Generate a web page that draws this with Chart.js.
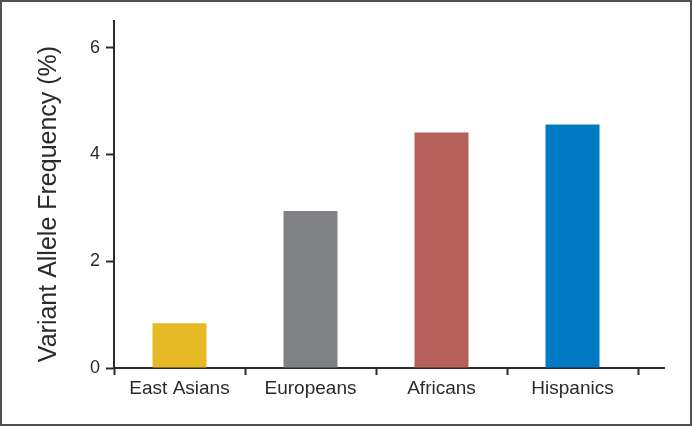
<!DOCTYPE html>
<html>
<head>
<meta charset="utf-8">
<script src="https://cdn.jsdelivr.net/npm/chart.js@4"></script>
<style>
  html, body { margin: 0; padding: 0; background: #fff; }
  #wrap { position: relative; width: 692px; height: 426px; }
  #frame {
    position: absolute; left: 0; top: 0; width: 692px; height: 426px;
    box-sizing: border-box; border: 2px solid #505050; pointer-events: none;
  }
</style>
</head>
<body>
<div id="wrap">
  <canvas id="chart" width="692" height="426"></canvas>
  <div id="frame"></div>
</div>
<script>
// Chart data
const populations = ['East Asians', 'Europeans', 'Africans', 'Hispanics'];
const alleleFreq = [0.84, 2.94, 4.41, 4.56];
const barColors = ['#E6BA24', '#808185', '#B56059', '#007AC2'];
const yTicks = [0, 2, 4, 6];
const yTitle = 'Variant Allele Frequency (%)';

const axisColor = '#2b2b2b';
const fontFamily = '"Liberation Sans", Arial, Helvetica, sans-serif';

// Y title drawn by hand so it can sit a bit below the axis middle, like the original
const yTitlePlugin = {
    id: 'yTitle',
    afterDraw(chart) {
        const { ctx, chartArea } = chart;
        ctx.save();
        ctx.translate(49.5, (chartArea.top + chartArea.bottom) / 2 + 9.5);
        ctx.rotate(-Math.PI / 2);
        ctx.font = '25px ' + fontFamily;
        ctx.fillStyle = axisColor;
        ctx.textAlign = 'center';
        ctx.textBaseline = 'middle';
        ctx.fillText(yTitle, 0, 0);
        ctx.restore();
    }
};

// The x axis line runs on past the last tick
const axisTailPlugin = {
    id: 'axisTail',
    afterDraw(chart) {
        const { ctx, chartArea } = chart;
        ctx.save();
        ctx.strokeStyle = axisColor;
        ctx.lineWidth = 2;
        ctx.beginPath();
        ctx.moveTo(chartArea.right - 1, chartArea.bottom);
        ctx.lineTo(chartArea.right + 27, chartArea.bottom);
        ctx.stroke();
        ctx.restore();
    }
};

new Chart(document.getElementById('chart'), {
    type: 'bar',
    data: {
        labels: populations,
        datasets: [{
            data: alleleFreq,
            backgroundColor: barColors,
            borderWidth: 0,
            barPercentage: 0.412,
            categoryPercentage: 1
        }]
    },
    options: {
        responsive: false,
        animation: false,
        layout: { padding: { left: 0, top: 21, right: 54, bottom: 0 } },
        plugins: {
            legend: { display: false },
            tooltip: { enabled: false }
        },
        scales: {
            x: {
                offset: true,
                grid: {
                    offset: true,
                    drawOnChartArea: false,
                    tickLength: 7,
                    tickWidth: 2,
                    tickColor: axisColor
                },
                border: { display: true, color: axisColor, width: 2 },
                ticks: {
                    color: axisColor,
                    padding: 2,
                    maxRotation: 0,
                    font: { family: fontFamily, size: 19 }
                },
                afterFit(scale) { scale.height = 58; }
            },
            y: {
                min: 0,
                max: 6.5,
                grid: {
                    drawOnChartArea: false,
                    tickLength: 8,
                    tickWidth: 2,
                    tickColor: axisColor
                },
                border: { display: true, color: axisColor, width: 2 },
                ticks: {
                    color: axisColor,
                    padding: 6,
                    font: { family: fontFamily, size: 18 }
                },
                afterBuildTicks(scale) {
                    scale.ticks = yTicks.map(v => ({ value: v }));
                },
                afterFit(scale) { scale.width = 114; }
            }
        }
    },
    plugins: [yTitlePlugin, axisTailPlugin]
});
</script>
</body>
</html>
